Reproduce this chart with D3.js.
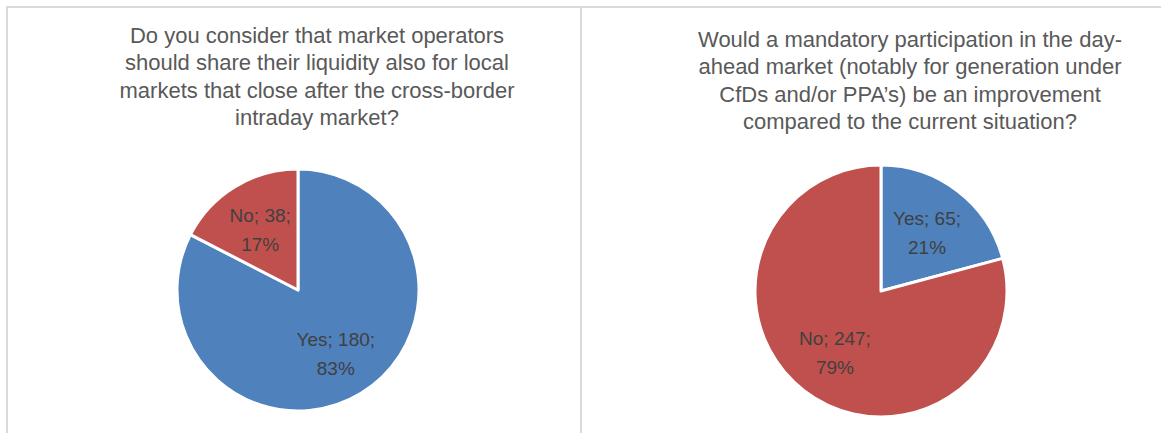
<!DOCTYPE html>
<html>
<head>
<meta charset="utf-8">
<script src="https://cdn.jsdelivr.net/npm/d3@7"></script>
<style>
  body { margin: 0; background: #fff; }
  svg { display: block; }
</style>
</head>
<body>
<div id="chart"></div>
<script>
// survey answers, one pie per question
const leftTitle = ["Do you consider that market operators",
                   "should share their liquidity also for local",
                   "markets that close after the cross-border",
                   "intraday market?"];
const leftCategories = ["Yes", "No"];
const leftValues = [180, 38];

const rightTitle = ["Would a mandatory participation in the day-",
                    "ahead market (notably for generation under",
                    "CfDs and/or PPA\u2019s) be an improvement",
                    "compared to the current situation?"];
const rightCategories = ["Yes", "No"];
const rightValues = [65, 247];

const size = { width: 1161, height: 433 };
const colors = { Yes: "#4f81bd", No: "#c0504d" };

const svg = d3.select("#chart").append("svg")
  .attr("width", size.width)
  .attr("height", size.height);

// panel borders
svg.append("path")
  .attr("d", "M7,433 V7 H1161 M581,7 V433")
  .attr("fill", "none")
  .attr("stroke", "#d9d9d9")
  .attr("stroke-width", 2);

const drawPie = function(opts) {
  const g = svg.append("g");

  // title
  g.append("text")
    .attr("text-anchor", "middle")
    .attr("font-family", "Liberation Sans, Arial, sans-serif")
    .attr("font-size", 22)
    .attr("fill", "#595959")
    .selectAll("tspan")
    .data(opts.title)
    .join("tspan")
    .attr("x", opts.titleX)
    .attr("y", (d, i) => opts.titleY + i * 27.3)
    .text(d => d);

  const data = opts.categories.map((c, i) => ({ cat: c, value: opts.values[i] }));
  const total = d3.sum(opts.values);
  const pie = d3.pie().sort(null).value(d => d.value);
  const arc = d3.arc().innerRadius(0).outerRadius(opts.r);
  const labelArc = d3.arc().innerRadius(opts.r * opts.labelR).outerRadius(opts.r * opts.labelR);

  const pg = g.append("g").attr("transform", `translate(${opts.cx},${opts.cy})`);
  const arcs = pie(data);

  pg.selectAll("path")
    .data(arcs)
    .join("path")
    .attr("d", arc)
    .attr("fill", d => colors[d.data.cat])
    .attr("stroke", "#fff")
    .attr("stroke-width", 3)
    .attr("stroke-linejoin", "round");

  const labels = pg.selectAll("text.lbl")
    .data(arcs)
    .join("text")
    .attr("class", "lbl")
    .attr("text-anchor", "middle")
    .attr("font-family", "Liberation Sans, Arial, sans-serif")
    .attr("font-size", 19)
    .attr("fill", "#404040")
    .attr("transform", d => `translate(${labelArc.centroid(d)})`);

  labels.append("tspan")
    .attr("x", 0).attr("y", -6)
    .text(d => `${d.data.cat}; ${d.data.value};`);
  labels.append("tspan")
    .attr("x", 0).attr("y", 23)
    .text(d => `${Math.round(d.data.value / total * 100)}%`);
};

drawPie({
  title: leftTitle, categories: leftCategories, values: leftValues,
  titleX: 317, titleY: 43,
  cx: 298, cy: 290, r: 121, labelR: 0.6
});

drawPie({
  title: rightTitle, categories: rightCategories, values: rightValues,
  titleX: 910, titleY: 47,
  cx: 881, cy: 291, r: 126, labelR: 0.6
});
</script>
</body>
</html>
